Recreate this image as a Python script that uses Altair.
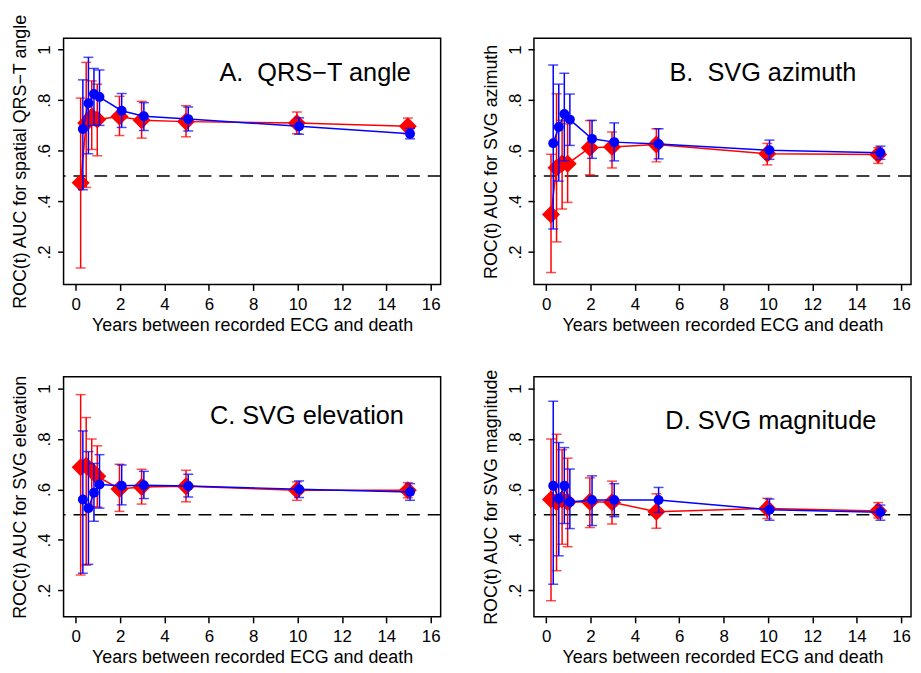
import altair as alt
import pandas as pd

# ---------------- data ----------------
times = [0.25, 0.5, 0.75, 1, 2, 3, 5, 10, 15]

a_red = [0.474, 0.71, 0.735, 0.723, 0.735, 0.72, 0.715, 0.71, 0.697]
a_red_lo = [0.137, 0.455, 0.605, 0.58, 0.66, 0.65, 0.655, 0.667, 0.667]
a_red_hi = [0.808, 0.949, 0.876, 0.863, 0.815, 0.795, 0.778, 0.753, 0.729]
a_blue = [0.686, 0.788, 0.824, 0.812, 0.758, 0.736, 0.725, 0.697, 0.667]
a_blue_lo = [0.446, 0.588, 0.70, 0.70, 0.692, 0.68, 0.678, 0.665, 0.647]
a_blue_hi = [0.88, 0.969, 0.925, 0.919, 0.826, 0.79, 0.773, 0.73, 0.688]

b_red = [0.348, 0.533, 0.55, 0.549, 0.612, 0.615, 0.625, 0.588, 0.585]
b_red_lo = [0.119, 0.24, 0.37, 0.396, 0.505, 0.532, 0.556, 0.544, 0.55]
b_red_hi = [0.586, 0.825, 0.72, 0.706, 0.719, 0.674, 0.687, 0.629, 0.612]
b_blue = [0.63, 0.694, 0.745, 0.723, 0.647, 0.634, 0.627, 0.602, 0.592]
b_blue_lo = [0.291, 0.48, 0.56, 0.621, 0.57, 0.56, 0.568, 0.566, 0.566]
b_blue_hi = [0.939, 0.863, 0.906, 0.824, 0.72, 0.71, 0.687, 0.642, 0.618]

c_red = [0.688, 0.694, 0.675, 0.652, 0.602, 0.61, 0.613, 0.597, 0.597]
c_red_lo = [0.261, 0.30, 0.53, 0.53, 0.513, 0.542, 0.551, 0.557, 0.567]
c_red_hi = [0.976, 0.885, 0.80, 0.773, 0.70, 0.68, 0.676, 0.63, 0.627]
c_blue = [0.56, 0.526, 0.587, 0.62, 0.615, 0.617, 0.614, 0.601, 0.59]
c_blue_lo = [0.268, 0.303, 0.474, 0.526, 0.539, 0.564, 0.57, 0.568, 0.557]
c_blue_hi = [0.832, 0.75, 0.703, 0.738, 0.697, 0.672, 0.66, 0.634, 0.623]

d_red = [0.56, 0.55, 0.56, 0.55, 0.551, 0.549, 0.512, 0.525, 0.515]
d_red_lo = [0.159, 0.278, 0.383, 0.373, 0.449, 0.463, 0.446, 0.485, 0.487]
d_red_hi = [0.80, 0.819, 0.757, 0.724, 0.646, 0.633, 0.583, 0.565, 0.548]
d_blue = [0.615, 0.563, 0.615, 0.55, 0.558, 0.558, 0.558, 0.52, 0.51]
d_blue_lo = [0.224, 0.337, 0.465, 0.445, 0.457, 0.492, 0.509, 0.478, 0.478]
d_blue_hi = [0.95, 0.786, 0.766, 0.681, 0.654, 0.623, 0.608, 0.562, 0.538]

reference_auc = [0.5]
x_ticks = [0, 2, 4, 6, 8, 10, 12, 14, 16]
y_ticks = [0.2, 0.4, 0.6, 0.8, 1.0]

x_title = "Years between recorded ECG and death"
y_titles = [
    "ROC(t) AUC for spatial QRS\u2212T angle",
    "ROC(t) AUC for SVG azimuth",
    "ROC(t) AUC for SVG elevation",
    "ROC(t) AUC for SVG magnitude",
]
panel_labels = [
    "A.\u00a0 QRS\u2212T angle",
    "B.\u00a0 SVG azimuth",
    "C. SVG elevation",
    "D. SVG magnitude",
]

# ---------------- styling ----------------
RED = "#FF0000"
BLUE = "#0000FF"
FONT = "Liberation Sans"
W = 380
H_TOP, H_BOT = 248, 242
xscale = alt.Scale(domain=[-0.55, 16.45], nice=False, zero=False)
yscale_top = alt.Scale(domain=[0.072, 1.044], nice=False, zero=False)
yscale_bot = alt.Scale(domain=[0.095, 1.047], nice=False, zero=False)
xaxis = alt.Axis(values=x_ticks, grid=False, domain=False, tickSize=6,
                 labelPadding=6, titlePadding=4)
yaxis = alt.Axis(values=y_ticks, grid=False, domain=False, tickSize=6,
                 labelAngle=270, labelPadding=4, titlePadding=6,
                 labelExpr="datum.value == 1 ? '1' : replace(format(datum.value, '.1f'), '0.', '.')")


def make_df(red, red_lo, red_hi, blue, blue_lo, blue_hi):
    rows = []
    for i, t in enumerate(times):
        rows.append(dict(time=t, series="red", auc=red[i], lo=red_lo[i], hi=red_hi[i]))
    for i, t in enumerate(times):
        rows.append(dict(time=t, series="blue", auc=blue[i], lo=blue_lo[i], hi=blue_hi[i]))
    return pd.DataFrame(rows)


def panel(df, ytitle, label, lx, ly, yscale, height):
    base = alt.Chart(df).transform_calculate(
        xpos="datum.time + (datum.series == 'red' ? -0.03 : 0.07)"
    )
    X = alt.X("xpos:Q", scale=xscale, axis=xaxis, title=x_title)

    def Y(f):
        return alt.Y(f, type="quantitative", scale=yscale, axis=yaxis, title=ytitle)

    ref = alt.Chart(pd.DataFrame({"ref": reference_auc})).mark_rule(
        color="black", strokeDash=[13, 8], strokeWidth=1.5
    ).encode(y=Y("ref"))
    layers = [ref]
    for s, col, shape, size in [("red", RED, "diamond", 330), ("blue", BLUE, "circle", 100)]:
        b = base.transform_filter(alt.datum.series == s)
        layers += [
            b.mark_line(color=col, strokeWidth=1.5).encode(x=X, y=Y("auc")),
            b.mark_rule(color=col, strokeWidth=1.5).encode(x=X, y=Y("lo"), y2="hi"),
            b.mark_tick(color=col, orient="horizontal", size=10, thickness=1.5).encode(x=X, y=Y("lo")),
            b.mark_tick(color=col, orient="horizontal", size=10, thickness=1.5).encode(x=X, y=Y("hi")),
            b.mark_point(shape=shape, filled=True, size=size, color=col, opacity=1).encode(x=X, y=Y("auc")),
        ]
    txt = alt.Chart(pd.DataFrame({"label": [label]})).mark_text(
        align="right", baseline="middle", fontSize=25.5, font=FONT, color="black"
    ).encode(x=alt.value(lx), y=alt.value(ly), text="label:N")
    layers.append(txt)
    return alt.layer(*layers).properties(width=W, height=height)


pA = panel(make_df(a_red, a_red_lo, a_red_hi, a_blue, a_blue_lo, a_blue_hi),
           y_titles[0], panel_labels[0], 350, 35, yscale_top, H_TOP)
pB = panel(make_df(b_red, b_red_lo, b_red_hi, b_blue, b_blue_lo, b_blue_hi),
           y_titles[1], panel_labels[1], 325, 35, yscale_top, H_TOP)
pC = panel(make_df(c_red, c_red_lo, c_red_hi, c_blue, c_blue_lo, c_blue_hi),
           y_titles[2], panel_labels[2], 343, 40, yscale_bot, H_BOT)
pD = panel(make_df(d_red, d_red_lo, d_red_hi, d_blue, d_blue_lo, d_blue_hi),
           y_titles[3], panel_labels[3], 345, 45, yscale_bot, H_BOT)

chart = alt.vconcat(
    alt.hconcat(pA, pB, spacing=39),
    alt.hconcat(pC, pD, spacing=39),
    spacing=33,
).properties(
    padding={"left": 3, "top": 2, "right": 0, "bottom": 0}
).configure_view(
    stroke="black", strokeWidth=1.5
).configure_axis(
    labelFont=FONT, titleFont=FONT, labelFontSize=17, titleFontSize=18,
    labelColor="black", titleColor="black", tickColor="black", tickWidth=1.5,
    titleFontWeight="normal"
).configure_concat(spacing=39)

chart.save("out.html", embed_options={"renderer": "svg", "actions": False})
